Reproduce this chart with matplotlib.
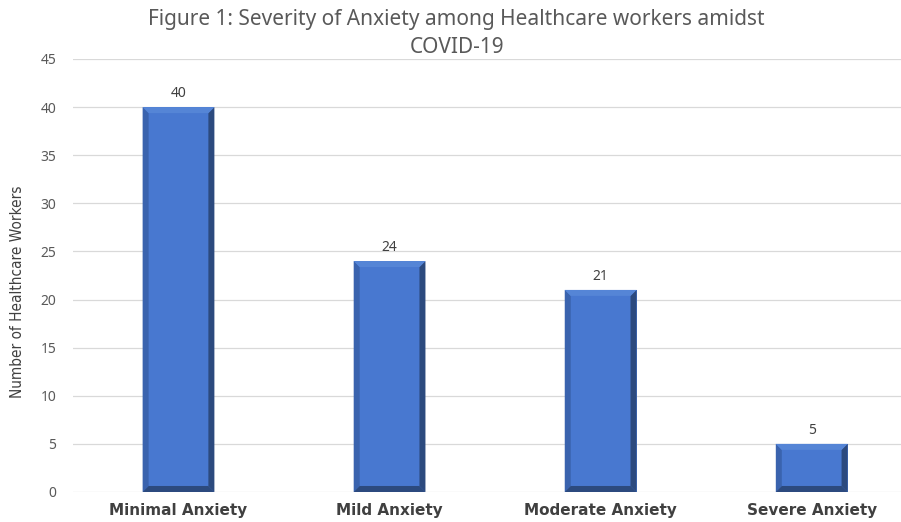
import numpy as np
import matplotlib.pyplot as plt
from matplotlib.patches import Polygon

categories = ['Minimal Anxiety', 'Mild Anxiety', 'Moderate Anxiety', 'Severe Anxiety']
counts = [40, 24, 21, 5]
yticks = [0, 5, 10, 15, 20, 25, 30, 35, 40, 45]

face = '#4878d0'
dark = '#2c4a7e'
mid = '#3a63ae'
light = '#5585d6'

fig = plt.figure(figsize=(9.01, 5.22), dpi=100)
ax = fig.add_axes([0.081, 0.0575, 0.937, 0.8295])

x = np.arange(len(categories))
bars = ax.bar(x, counts, width=0.34, color=face, zorder=2)

ax.set_xlim(-0.5, len(categories) - 0.5)
ax.set_ylim(0, 45)

# pixel -> data sizes for the bevel
fig.canvas.draw()
px_x = (ax.get_xlim()[1] - ax.get_xlim()[0]) / ax.bbox.width
px_y = (ax.get_ylim()[1] - ax.get_ylim()[0]) / ax.bbox.height
bx = 6 * px_x
by = 6 * px_y

for b in bars:
    x0, y0 = b.get_x(), b.get_y()
    x1, y1 = x0 + b.get_width(), y0 + b.get_height()
    # left side
    ax.add_patch(Polygon([(x0, y0), (x0 + bx, y0 + by), (x0 + bx, y1 - by), (x0, y1)],
                         color=mid, zorder=3, lw=0))
    # right side
    ax.add_patch(Polygon([(x1, y0), (x1 - bx, y0 + by), (x1 - bx, y1 - by), (x1, y1)],
                         color=dark, zorder=3, lw=0))
    # top
    ax.add_patch(Polygon([(x0, y1), (x0 + bx, y1 - by), (x1 - bx, y1 - by), (x1, y1)],
                         color=light, zorder=3, lw=0))
    # bottom
    ax.add_patch(Polygon([(x0, y0), (x0 + bx, y0 + by), (x1 - bx, y0 + by), (x1, y0)],
                         color=dark, zorder=3, lw=0))
    ax.text(b.get_x() + b.get_width() / 2, y1 + 0.6, str(int(b.get_height())),
            ha='center', va='bottom', fontsize=10, color='#404040', family='Noto Sans')

ax.set_yticks(yticks)
ax.set_yticklabels([str(t) for t in yticks], fontsize=10, color='#595959', family='Noto Sans')
ax.set_xticks(x)
ax.set_xticklabels(categories, fontsize=11, fontweight='bold', color='#404040',
                   family='DejaVu Sans')
ax.tick_params(axis='both', length=0)
ax.tick_params(axis='y', pad=12)
ax.tick_params(axis='x', pad=8)
ax.grid(axis='y', color='#d9d9d9', lw=0.9, zorder=0)
for s in ax.spines.values():
    s.set_visible(False)

fig.text(18 / 901, 1 - 292 / 522, 'Number of Healthcare Workers', rotation=90,
         ha='center', va='center', fontsize=11, color='#404040',
         family=['Liberation Sans Narrow', 'DejaVu Sans'], fontstretch='condensed')

fig.text(0.507, 0.936, 'Figure 1: Severity of Anxiety among Healthcare workers amidst\nCOVID-19',
         ha='center', va='center', fontsize=15, color='#595959', family='Noto Sans',
         linespacing=1.45)

fig.savefig('out.png', dpi=100)
